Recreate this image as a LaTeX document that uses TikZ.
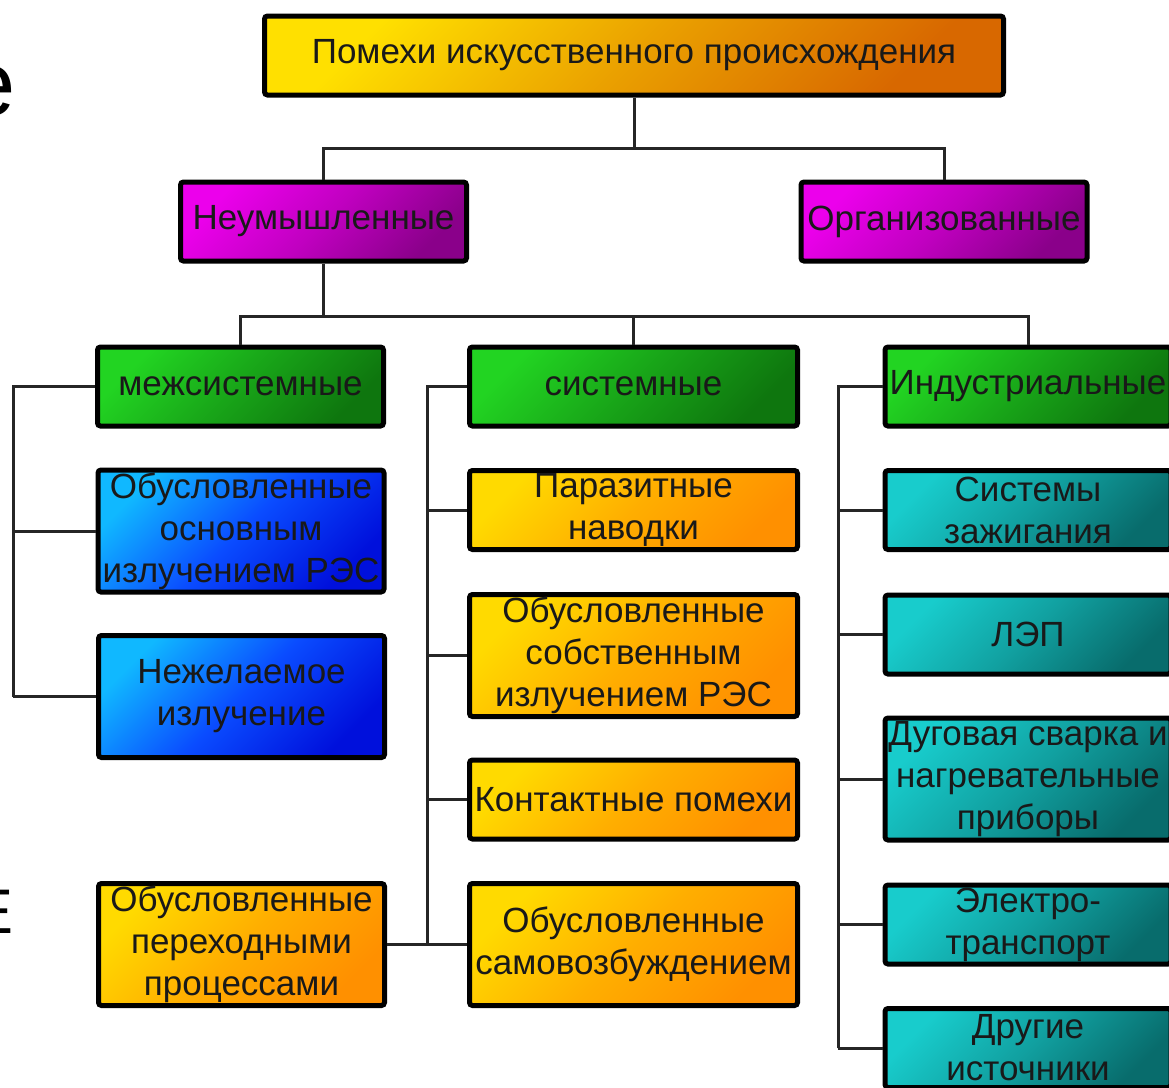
\documentclass[tikz,border=0pt]{standalone}
\usepackage{fontspec}
\setmainfont{Liberation Sans}
\definecolor{yelA}{HTML}{FFE000}
\definecolor{yelM}{HTML}{EAA000}
\definecolor{orA}{HTML}{D86800}
\definecolor{magA}{HTML}{EC00EC}
\definecolor{magM}{HTML}{C000C0}
\definecolor{magB}{HTML}{8A008A}
\definecolor{grnA}{HTML}{22D422}
\definecolor{grnM}{HTML}{18A418}
\definecolor{grnB}{HTML}{0E760E}
\definecolor{cyA}{HTML}{10B8FF}
\definecolor{bluM}{HTML}{0A4CFF}
\definecolor{bluB}{HTML}{0010DC}
\definecolor{yelB}{HTML}{FFDA00}
\definecolor{orM}{HTML}{FFAE00}
\definecolor{orB}{HTML}{FF9000}
\definecolor{tealA}{HTML}{18CCCC}
\definecolor{tealM}{HTML}{11A0A0}
\definecolor{tealB}{HTML}{086C6C}

\begin{document}
\begin{tikzpicture}[x=0.5pt,y=-0.5pt,
    box/.style={draw=black,line width=2.5pt,rounded corners=1.5pt,inner sep=0pt,
      align=center,minimum width=143pt,minimum height=39.5pt,
      font=\fontsize{17.5}{21}\selectfont,text=black!90},
    tall/.style={minimum height=61pt},
    wide/.style={minimum width=164pt},
    grad/.style n args={3}{top color=#1,bottom color=#3,middle color=#2,shading angle=45},
    wire/.style={draw=black!85,line width=1.5pt}]
      \useasboundingbox (0,0) rectangle (1169,1088);
      \node (slideE) at (16,115) [anchor=base east,inner sep=0pt,font=\fontsize{46}{46}\selectfont] {е};
      \node (slideEE) at (14,933) [anchor=base east,inner sep=0pt,font=\fontsize{31.5}{31.5}\selectfont] {Е};

      \node (top) at (634,55.5) [box,grad={yelA}{yelM}{orA},minimum width=369.5pt] {Помехи искусственного происхождения};
      \node (neum) at (323.5,221.5) [box,grad={magA}{magM}{magB}] {Неумышленные};
      \node (org) at (944,221.5) [box,grad={magA}{magM}{magB}] {Организованные};

      \node (mezh) at (240.5,386.5) [box,grad={grnA}{grnM}{grnB}] {межсистемные};
      \node (sist) at (633.5,386.5) [box,wide,grad={grnA}{grnM}{grnB}] {системные};
      \node (indus) at (1028,386.5) [box,grad={grnA}{grnM}{grnB}] {Индустриальные};

      \node (osn) at (241,531) [box,tall,grad={cyA}{bluM}{bluB}] {Обусловленные\\основным\\излучением РЭС};
      \node (nezh) at (241.5,696.5) [box,tall,grad={cyA}{bluM}{bluB}] {Нежелаемое\\излучение};
      \node (perehod) at (241.5,944.5) [box,tall,grad={yelB}{orM}{orB}] {Обусловленные\\переходными\\процессами};

      \node (paraz) at (633.5,510) [box,wide,grad={yelB}{orM}{orB}] {Паразитные\\наводки};
      \node (sobst) at (633.5,655.5) [box,wide,tall,grad={yelB}{orM}{orB}] {Обусловленные\\собственным\\излучением РЭС};
      \node (kont) at (633.5,799.5) [box,wide,grad={yelB}{orM}{orB}] {Контактные помехи};
      \node (samovozb) at (633.5,944.5) [box,wide,tall,grad={yelB}{orM}{orB}] {Обусловленные\\самовозбуждением};

      \node (zazh) at (1028,510) [box,grad={tealA}{tealM}{tealB}] {Системы\\зажигания};
      \node (lep) at (1028,634.5) [box,grad={tealA}{tealM}{tealB}] {ЛЭП};
      \node (dug) at (1028,779) [box,tall,grad={tealA}{tealM}{tealB}] {Дуговая сварка и\\нагревательные\\приборы};
      \node (elektro) at (1028,924.5) [box,grad={tealA}{tealM}{tealB}] {Электро-\\транспорт};
      \node (drug) at (1028,1048) [box,grad={tealA}{tealM}{tealB}] {Другие\\источники};

      \coordinate (j1) at (634,148);
      \coordinate (j2) at (323.5,316);
      \coordinate (lb) at (13,696.5);
      \coordinate (mb) at (427,944.5);
      \coordinate (rb) at (838,1048);

      \draw[wire] (top) -- (j1) -| (neum);
      \draw[wire] (j1) -| (org);
      \draw[wire] (neum) -- (j2);
      \foreach \n in {mezh,sist,indus}
        \draw[wire] (j2) -| (\n);
      \foreach \n in {mezh,osn}
        \draw[wire] (lb) |- (\n);
      \draw[wire] (lb) -- (nezh);
      \foreach \n in {sist,paraz,sobst,kont}
        \draw[wire] (mb) |- (\n);
      \draw[wire] (perehod) -- (samovozb);
      \foreach \n in {indus,zazh,lep,dug,elektro}
        \draw[wire] (rb) |- (\n);
      \draw[wire] (rb) -- (drug);
    \end{tikzpicture}
\end{document}
